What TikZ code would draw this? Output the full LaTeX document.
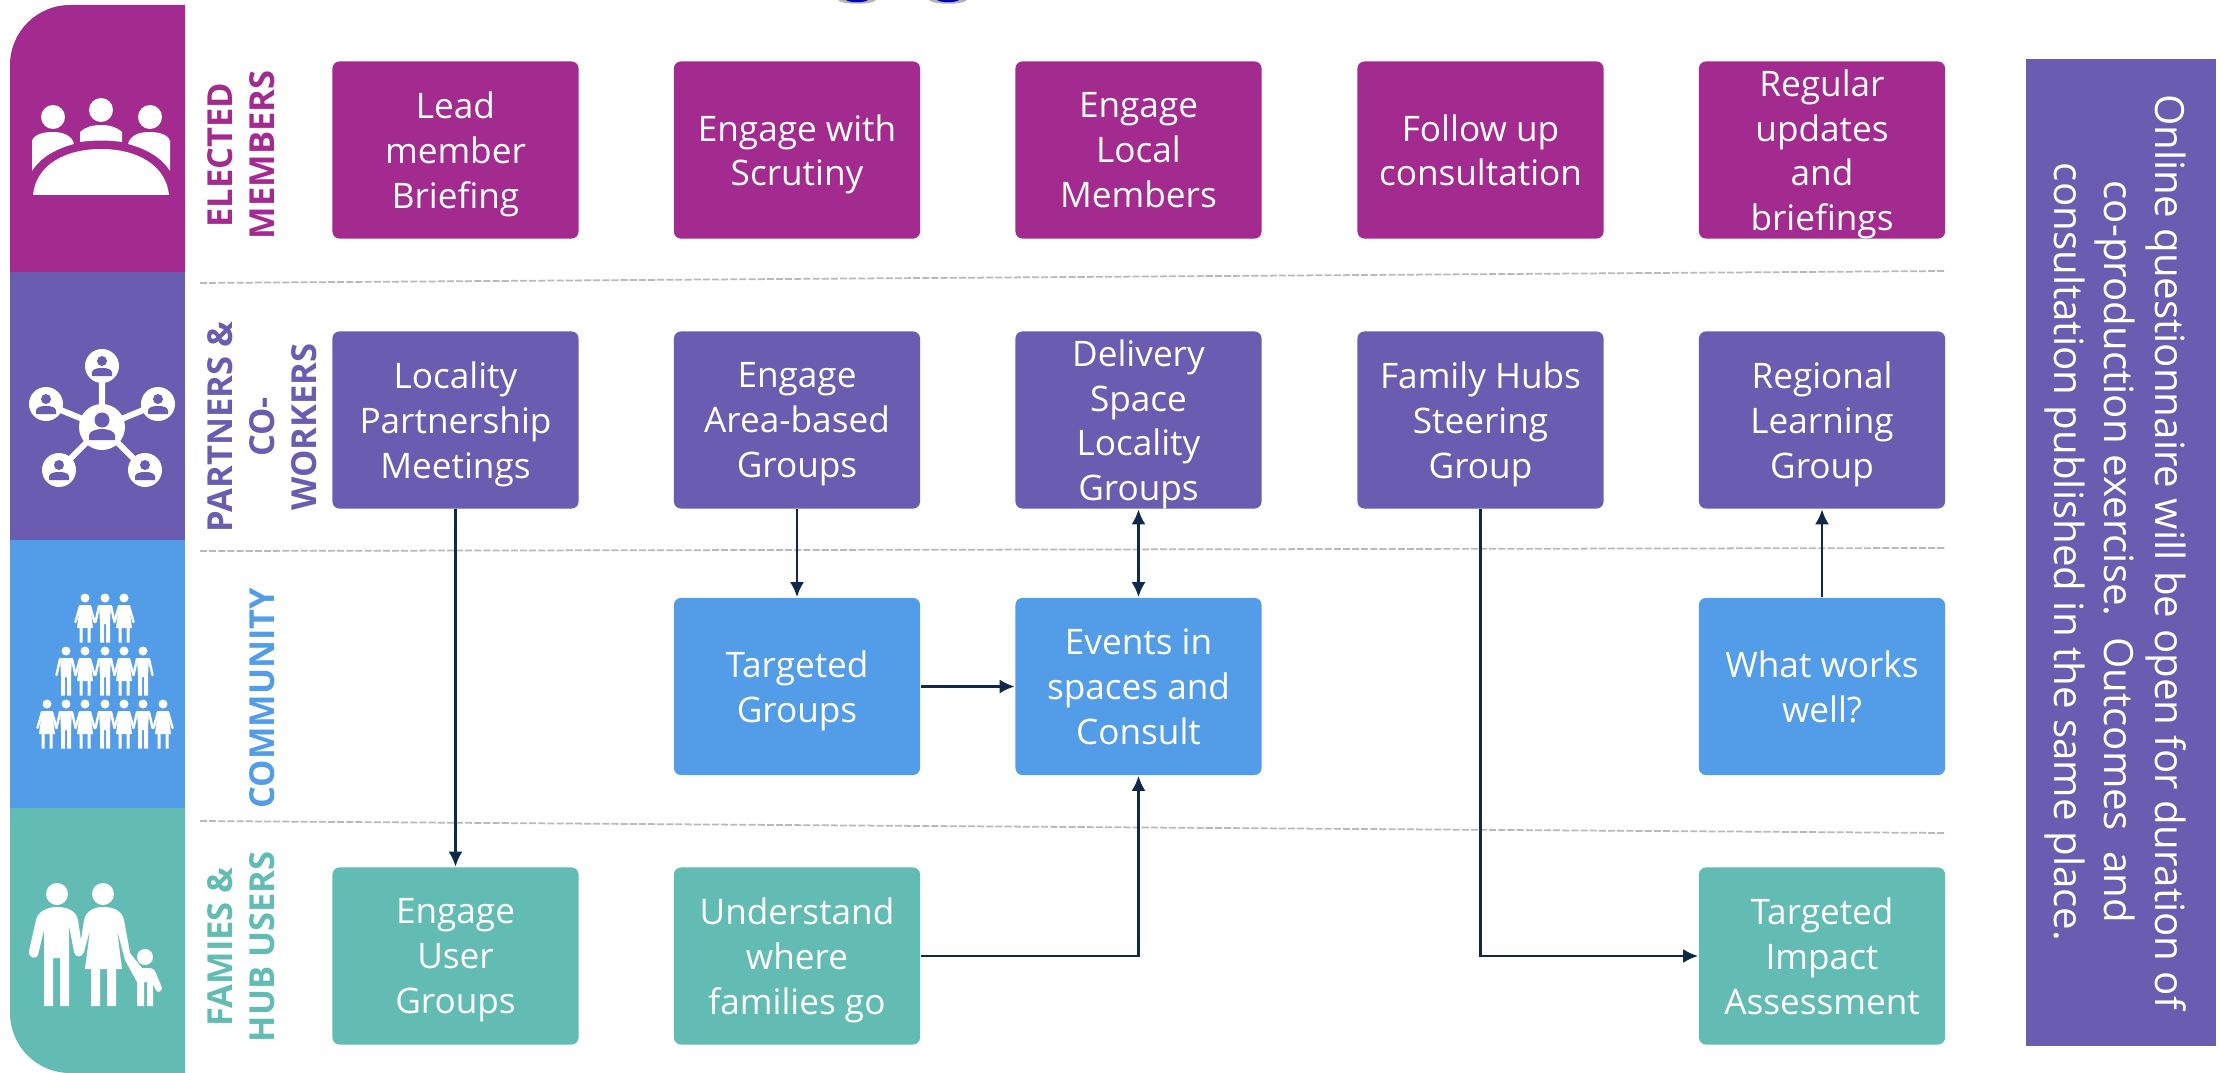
\documentclass[tikz,border=0pt]{standalone}
\usepackage{fontspec}
\setmainfont{Open Sans}
\usetikzlibrary{arrows.meta}
\definecolor{elected}{HTML}{A32A8F}
\definecolor{partner}{HTML}{6A5CB0}
\definecolor{commun}{HTML}{539CE8}
\definecolor{famil}{HTML}{62BCB3}
\definecolor{arrowc}{HTML}{10294A}
\definecolor{rulec}{HTML}{B4BCB4}
\tikzset{
boxn/.style={rounded corners=.07cm,minimum width=2.46cm,minimum height=1.77cm,inner sep=0pt,align=center,text=white,text depth=-1.2pt,font=\fontsize{10}{12.7}\selectfont},
rowlab/.style={rotate=90,inner sep=0pt,align=center,font=\fontsize{9.8}{11.9}\selectfont\bfseries},
link/.style={arrowc,line width=.8pt,-{Latex[length=.15cm,width=.14cm]}},
sepl/.style={rulec,line width=.5pt,dash pattern=on 2pt off .6pt},
pics/manfig/.style={code={
\fill (0,0) circle(4.5);
\fill (-6,7)--(6,7)--(5,25)--(5,44.5)--(1,44.5)--(1,26)--(-1,26)--(-1,44.5)--(-5,44.5)--(-5,25)--cycle;
\draw[line width=.024cm,line cap=round] (-6,8)--(-9.5,24) (6,8)--(9.5,24);}},
pics/womanfig/.style={code={
\fill (0,0) circle(4.5);
\fill (-5,7)--(5,7)--(8,30)--(5.5,30)--(5.5,44.5)--(2.5,44.5)--(2.5,30)--(-2.5,30)--(-2.5,44.5)--(-5.5,44.5)--(-5.5,30)--(-8,30)--cycle;
\draw[line width=.024cm,line cap=round] (-5,8)--(-9.5,24) (5,8)--(9.5,24);}},
pics/userdot/.style={code={
\fill[white] (0,0) circle(17);
\fill[partner] (0,-5) circle(5);
\fill[partner] (-10,10)--(-10,6)..controls (-9,3) and (-5,2)..(0,2)..controls (5,2) and (9,3)..(10,6)--(10,10)--cycle;}}
}
\begin{document}
\begin{tikzpicture}[x=.01cm,y=-.01cm]
\useasboundingbox (0,0) rectangle (2221,1073);
\fill[gray!60] (838,0)..controls (842,5) and (872,5)..(876,0)--cycle;
\fill[blue!70!black] (846,0)..controls (850,3) and (864,3)..(868,0)--cycle;
\fill[gray!60] (929,0)..controls (933,5) and (963,5)..(967,0)--cycle;
\fill[blue!70!black] (937,0)..controls (941,3) and (955,3)..(959,0)--cycle;
\fill[elected] (185,272)--(10,272)[rounded corners=.6cm]--(10,5)[sharp corners]--(185,5)--cycle;
\fill[partner] (10,272) rectangle (185,540);
\fill[commun] (10,540) rectangle (185,808);
\fill[famil] (185,808)--(10,808)[rounded corners=.6cm]--(10,1073)[sharp corners]--(185,1073)--cycle;
\fill[white] (53,117) circle(12) (101,110) circle(12) (150,117) circle(12);
\fill[white] (33,195)..controls (36,165) and (65,149)..(101,149)..controls (137,149) and (166,165)..(169,195)--cycle;
\fill[white] (32,171)--(32,141)..controls (34,134) and (44,132)..(53,132)..controls (62,132) and (72,135)..(74,144)..controls (55,149) and (40,158)..(32,171)--cycle;
\fill[white] (170,171)--(170,141)..controls (168,134) and (158,132)..(149,132)..controls (140,132) and (130,135)..(128,144)..controls (147,149) and (162,158)..(170,171)--cycle;
\fill[white] (80,142)--(80,132)..controls (85,127) and (93,125)..(101,125)..controls (109,125) and (117,127)..(122,132)--(122,142)..controls (108,140) and (94,140)..(80,142)--cycle;
\draw[white,line width=.06cm] (102,427)--(102,366) (102,427)--(46,404) (102,427)--(158,404) (102,427)--(59,470) (102,427)--(145,470);
\fill[white] (102,427) circle(23);
\fill[partner] (102,420) circle(7.5);
\fill[partner] (89,440)--(89,435)..controls (90,431) and (96,429)..(102,429)..controls (108,429) and (114,431)..(115,435)--(115,440)--cycle;
\foreach \px/\py in {102/366,46/404,158/404,59/470,145/470}
\pic at (\px,\py) {userdot};
\begin{scope}[white]
\foreach \px/\pk in {85/womanfig,105/manfig,124/womanfig}
\pic at (\px,598) {\pk};
\foreach \px/\pk in {66/manfig,85/womanfig,105/manfig,124/womanfig,143/manfig}
\pic at (\px,651) {\pk};
\foreach \px/\pk in {47/womanfig,66/manfig,85/womanfig,105/manfig,124/womanfig,143/manfig,163/womanfig}
\pic at (\px,704) {\pk};
\fill (57,894) circle(11) (103,894) circle(11) (145,957) circle(8);
\fill (44,1006)--(44,930)--(38,955)..controls (36,960) and (28,958)..(29,951)--(36,920)..controls (38,911) and (48,907)..(57,907)..controls (68,907) and (76,911)..(78,920)--(81,940)--(84,920)..controls (86,911) and (94,907)..(103,907)..controls (114,907) and (122,911)..(124,920)--(130,953)--(142,968)--(150,968)..controls (154,969) and (155,971)..(156,973)--(162,988)..controls (162,992) and (157,993)..(156,990)--(153,984)--(153,1006)--(147,1006)--(147,982)--(144,982)--(144,1006)--(137,1006)--(137,982)--(125,960)--(117,930)--(122,969)--(116,969)--(116,1006)--(107,1006)--(107,969)--(100,969)--(100,1006)--(91,1006)--(91,969)--(85,969)--(90,930)--(84,952)..controls (82,958) and (75,958)..(74,952)--(69,925)--(69,1006)--(60,1006)--(60,958)--(53,958)--(53,1006)--cycle;
\end{scope}
\node[rowlab,text=elected] (lbe) at (241,155) {ELECTED\\MEMBERS};
\node[rowlab,text=partner] (lbp) at (262,427) {PARTNERS \&\\CO-\\WORKERS};
\node[rowlab,text=commun] (lbc) at (262,698) {COMMUNITY};
\node[rowlab,text=famil] (lbf) at (241,947) {FAMIES \&\\HUB USERS};
\coordinate (s1l) at (200,283);
\coordinate (s1r) at (1945,271);
\coordinate (s2l) at (200,551);
\coordinate (s2r) at (1945,548);
\coordinate (s3l) at (200,821);
\coordinate (s3r) at (1945,833);
\draw[sepl] (s1l)--(s1r);
\draw[sepl] (s2l)--(s2r);
\draw[sepl] (s3l)--(s3r);
\node[boxn,fill=elected] (lead) at (455.5,150) {Lead\\member\\Briefing};
\node[boxn,fill=elected] (scrut) at (797,150) {Engage with\\Scrutiny};
\node[boxn,fill=elected] (local) at (1138.5,150) {Engage\\Local\\Members};
\node[boxn,fill=elected] (follow) at (1480.5,150) {Follow up\\consultation};
\node[boxn,fill=elected] (regup) at (1822,150) {Regular\\updates\\and\\briefings};
\node[boxn,fill=partner] (lpm) at (455.5,420) {Locality\\Partnership\\Meetings};
\node[boxn,fill=partner] (area) at (797,420) {Engage\\Area-based\\Groups};
\node[boxn,fill=partner] (deliv) at (1138.5,420) {Delivery\\Space\\Locality\\Groups};
\node[boxn,fill=partner] (steer) at (1480.5,420) {Family Hubs\\Steering\\Group};
\node[boxn,fill=partner] (rlg) at (1822,420) {Regional\\Learning\\Group};
\node[boxn,fill=commun] (targ) at (797,686.5) {Targeted\\Groups};
\node[boxn,fill=commun] (events) at (1138.5,686.5) {Events in\\spaces and\\Consult};
\node[boxn,fill=commun] (works) at (1822,686.5) {What works\\well?};
\node[boxn,fill=famil] (user) at (455.5,956) {Engage\\User\\Groups};
\node[boxn,fill=famil] (where) at (797,956) {Understand\\where\\families go};
\node[boxn,fill=famil] (impact) at (1822,956) {Targeted\\Impact\\Assessment};
\draw[link] (lpm)--(user);
\draw[link] (area)--(targ);
\draw[link,{Latex[length=.15cm,width=.14cm]}-{Latex[length=.15cm,width=.14cm]}] (deliv)--(events);
\draw[link] (targ)--(events);
\draw[link] (where)-|(events);
\draw[link] (steer)|-(impact);
\draw[link] (works)--(rlg);
\fill[partner] (2026,59) rectangle (2216,1046);
\node[text=white,inner sep=0pt,rotate=-90,align=center,font=\fontsize{11.45}{14.4}\selectfont] (onl) at (2115.5,552) {Online questionnaire will be open for duration of\\co-production exercise.\ \ Outcomes\ \ and\\consultation published in the same place.};
\end{tikzpicture}
\end{document}
